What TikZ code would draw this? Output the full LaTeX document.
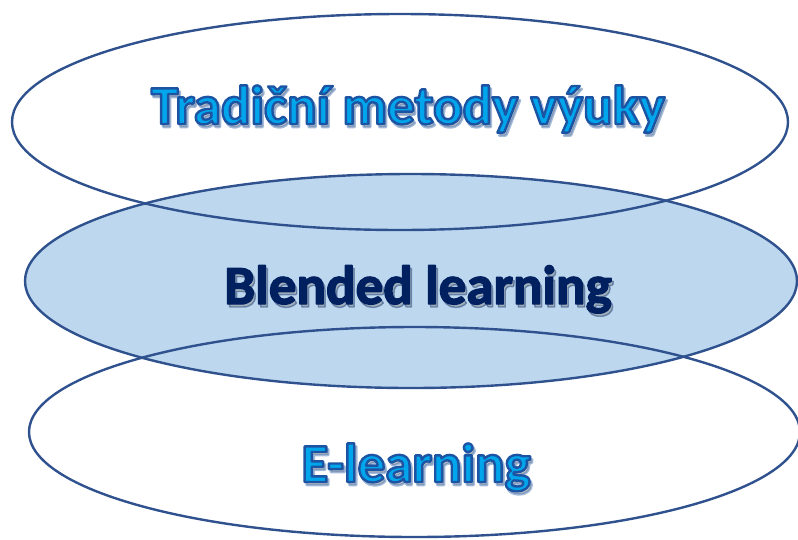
\documentclass[tikz,border=0pt]{standalone}
\usepackage{fontspec}
\setmainfont{Carlito}
\usetikzlibrary{shapes.geometric}

\definecolor{rimblue}{RGB}{47,82,143}
\definecolor{fillblue}{RGB}{189,215,238}
\definecolor{skyblue}{RGB}{0,166,236}
\definecolor{navy}{RGB}{0,32,96}

% outlined text: fill and stroke
\newcommand{\rimtext}[2]{\special{pdf:literal q 2 Tr #1 w 1 j 0.11 0.33 0.64 RG}#2\special{pdf:literal Q}}
\newcommand{\heavytext}[1]{\special{pdf:literal q 2 Tr 1.4 w 1 j 0 0.125 0.376 RG}#1\special{pdf:literal Q}}

\tikzset{
  blob/.style={draw=rimblue, line width=2.4pt, ellipse, inner sep=0pt},
  word/.style={anchor=base, font=\bfseries\fontsize{55}{60}\selectfont},
  shade/.style={word, text=black!55, opacity=0.4}
}

\begin{document}
\begin{tikzpicture}[x=1pt, y=-1pt]
      \useasboundingbox (0,0) rectangle (798,539);

      % Draw the ellipses
      \node[blob, fill=fillblue, minimum width=772pt, minimum height=214pt] (mid) at (411,281) {};
      \node[blob, minimum width=776pt, minimum height=216pt] (top) at (400,122) {};
      \node[blob, minimum width=771pt, minimum height=210pt] (bot) at (414.5,432) {};

      % Draw the shadows
      \node[shade] (topS) at (410,127) {\rimtext{2.6}{Tradiční metody výuky}};
      \node[shade] (midS) at (420,307) {\heavytext{Blended learning}};
      \node[shade] (botS) at (418,485) {\rimtext{2.6}{E-learning}};

      % Draw the labels
      \node[word, text=skyblue] (topT) at (408,124) {\rimtext{2.4}{Tradiční metody výuky}};
      \node[word, text=navy] (midT) at (418,304) {\heavytext{Blended learning}};
      \node[word, text=skyblue] (botT) at (416,482) {\rimtext{2.4}{E-learning}};
\end{tikzpicture}
\end{document}
